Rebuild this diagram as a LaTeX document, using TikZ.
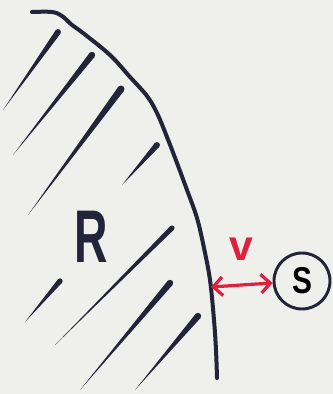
\documentclass[tikz,border=0pt]{standalone}
\usepackage{fontspec}
\setmainfont{Liberation Sans}
\usetikzlibrary{positioning,arrows.meta,calc}
\definecolor{ink}{HTML}{23233A}
\definecolor{redink}{HTML}{E0203C}
\definecolor{paper}{HTML}{EFEFEC}

\begin{document}
\begin{tikzpicture}[x=0.75pt,y=-0.75pt,
  boundary/.style={ink,line width=3pt,line cap=round,line join=round},
  gap/.style={redink,line width=2.4pt,line cap=round,
    {Straight Barb[length=7pt,width=14pt,line width=2.4pt]}-{Straight Barb[length=7pt,width=14pt,line width=2.4pt]}},
  letter/.style={inner sep=0pt,font=\bfseries\fontsize{#1}{#1}\selectfont},
  source/.style={draw=ink,circle,line width=2.2pt,minimum size=42pt,inner sep=0pt}]
\fill[paper] (0,0) rectangle (333,394);
% the region boundary
\draw[boundary] plot[smooth,tension=0.6] coordinates {(32,12) (52,12) (62,16) (72,25) (83,33) (110,55)
  (130,77) (147,96) (157,113) (167,137) (177,163) (187,190) (197,218) (204,248) (210,280)
  (214,320) (216,350) (217,378)};
\coordinate (edge) at (211,287);
% hatching, thick end first
\foreach \xa/\ya/\xb/\yb/\r in {58/32/3/110/2.2, 92/55/13/155/2.4, 121/89/28/215/2.6,
    157/145/122/185/2.2, 172/228/55/345/1.9, 60/281/25/322/2, 170/283/80/390/2.4,
    198/316/135/390/2.4}
  {\fill[ink] (\xb,\yb) -- ($(\xa,\ya)!\r pt!90:(\xb,\yb)$) -- ($(\xa,\ya)!\r pt!-90:(\xb,\yb)$) -- cycle;
   \fill[ink] (\xa,\ya) circle[radius=\r pt];}
\node[ink,letter=56,xscale=0.62] (region) at (91,237) {R};
\node[source,font=\bfseries\fontsize{28}{28}\selectfont] (s) at (302,281) {\scalebox{0.8}[1]{S}};
\node[redink,letter=32] (v) at (241,249) {v};
\draw[gap] (edge) -- (s);
\end{tikzpicture}
\end{document}
